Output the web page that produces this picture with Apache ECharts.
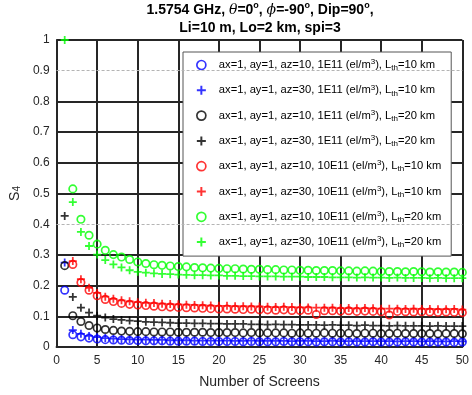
<!DOCTYPE html>
<html><head><meta charset="utf-8">
<script src="https://cdn.jsdelivr.net/npm/echarts@6/dist/echarts.min.js"></script>
<style>html,body{margin:0;padding:0;background:#fff}#c{width:472px;height:395px}</style>
</head><body><div id="c"></div>
<script>
const screens = Array.from({length: 50}, (_, i) => i + 1);
const xTicks = [0, 5, 10, 15, 20, 25, 30, 35, 40, 45, 50];
const yTicks = [0, 0.1, 0.2, 0.3, 0.4, 0.5, 0.6, 0.7, 0.8, 0.9, 1];

const blueO = [0.185,0.040,0.033,0.029,0.026,0.024,0.023,0.022,0.021,0.021, 0.020,0.020,0.020,0.019,0.019,0.019,0.019,0.018,0.018,0.018, 0.018,0.018,0.017,0.018,0.017,0.017,0.017,0.018,0.017,0.017, 0.017,0.016,0.017,0.017,0.016,0.017,0.016,0.016,0.017,0.016, 0.016,0.016,0.017,0.016,0.016,0.016,0.016,0.016,0.015,0.016];
const blueP = [0.275,0.055,0.043,0.036,0.032,0.029,0.027,0.026,0.025,0.024, 0.024,0.023,0.023,0.022,0.022,0.022,0.021,0.021,0.021,0.021, 0.021,0.020,0.020,0.021,0.020,0.020,0.020,0.020,0.019,0.020, 0.020,0.019,0.019,0.020,0.019,0.019,0.019,0.019,0.019,0.019, 0.019,0.018,0.019,0.019,0.018,0.019,0.018,0.018,0.019,0.018];
const blackO = [0.265,0.102,0.083,0.070,0.062,0.057,0.054,0.052,0.051,0.050, 0.050,0.049,0.049,0.049,0.048,0.048,0.048,0.048,0.047,0.047, 0.047,0.047,0.046,0.047,0.046,0.046,0.046,0.046,0.045,0.046, 0.045,0.045,0.046,0.045,0.045,0.045,0.044,0.045,0.045,0.044, 0.044,0.045,0.044,0.044,0.044,0.044,0.043,0.044,0.044,0.043];
const blackP = [0.427,0.163,0.128,0.112,0.102,0.096,0.091,0.088,0.086,0.084, 0.082,0.081,0.080,0.079,0.078,0.078,0.077,0.077,0.076,0.076, 0.075,0.075,0.075,0.074,0.074,0.073,0.074,0.073,0.073,0.072, 0.072,0.072,0.071,0.072,0.071,0.071,0.070,0.071,0.070,0.070, 0.069,0.070,0.069,0.069,0.069,0.068,0.069,0.068,0.068,0.068];
const redO = [null,0.269,0.210,0.185,0.167,0.155,0.148,0.142,0.139,0.137, 0.135,0.133,0.131,0.130,0.129,0.128,0.127,0.126,0.125,0.124, 0.124,0.123,0.122,0.123,0.121,0.121,0.120,0.121,0.119,0.119, 0.120,0.106,0.118,0.118,0.117,0.118,0.116,0.117,0.116,0.115, 0.104,0.116,0.115,0.114,0.115,0.114,0.113,0.114,0.113,0.112];
const redP = [null,0.280,0.221,0.193,0.176,0.164,0.157,0.152,0.149,0.146, 0.144,0.143,0.141,0.140,0.139,0.138,0.137,0.136,0.135,0.134, 0.134,0.133,0.133,0.132,0.132,0.131,0.130,0.131,0.130,0.129, 0.129,0.128,0.128,0.128,0.127,0.127,0.126,0.127,0.126,0.125, 0.125,0.125,0.124,0.125,0.124,0.124,0.123,0.123,0.124,0.122];
const greenO = [null,0.515,0.416,0.364,0.335,0.315,0.301,0.293,0.285,0.277, 0.272,0.268,0.266,0.264,0.262,0.261,0.259,0.258,0.257,0.256, 0.255,0.255,0.254,0.253,0.253,0.252,0.252,0.251,0.251,0.250, 0.250,0.249,0.249,0.249,0.248,0.248,0.247,0.248,0.247,0.246, 0.246,0.246,0.245,0.246,0.245,0.244,0.245,0.244,0.244,0.243];
const greenP = [1.0,0.472,0.375,0.329,0.301,0.283,0.269,0.259,0.250,0.245, 0.242,0.240,0.238,0.237,0.236,0.235,0.234,0.234,0.233,0.233, 0.232,0.232,0.231,0.231,0.230,0.230,0.230,0.229,0.229,0.229, 0.228,0.228,0.228,0.227,0.227,0.227,0.226,0.227,0.226,0.226, 0.225,0.226,0.225,0.225,0.225,0.224,0.225,0.224,0.224,0.224];

const seriesNames = [
  'ax=1, ay=1, az=10, 1E11 (el/m^3), L_th=10 km',
  'ax=1, ay=1, az=30, 1E11 (el/m^3), L_th=10 km',
  'ax=1, ay=1, az=10, 1E11 (el/m^3), L_th=20 km',
  'ax=1, ay=1, az=30, 1E11 (el/m^3), L_th=20 km',
  'ax=1, ay=1, az=10, 10E11 (el/m^3), L_th=10 km',
  'ax=1, ay=1, az=30, 10E11 (el/m^3), L_th=10 km',
  'ax=1, ay=1, az=10, 10E11 (el/m^3), L_th=20 km',
  'ax=1, ay=1, az=30, 10E11 (el/m^3), L_th=20 km'
];
const seriesValues = [blueO, blueP, blackO, blackP, redO, redP, greenO, greenP];
const seriesColors = ['#0000ff', '#0000ff', '#000000', '#000000', '#ff0000', '#ff0000', '#00ff00', '#00ff00'];
const seriesMarkers = ['o', '+', 'o', '+', 'o', '+', 'o', '+'];

const PLUS = 'path://M-0.22,-1H0.22V-0.22H1V0.22H0.22V1H-0.22V0.22H-1V-0.22H-0.22Z';
const FONT = 'Liberation Sans';
const GRID = '#262626';

const series = seriesNames.map((name, k) => {
  const isO = seriesMarkers[k] === 'o';
  const s = {
    name, type: 'scatter',
    data: screens.map((x, i) => [x, seriesValues[k][i]]).filter(d => d[1] !== null),
    symbol: isO ? 'circle' : PLUS,
    symbolSize: isO ? 7.4 : 8,
    itemStyle: isO
      ? {color: 'rgba(0,0,0,0)', borderColor: seriesColors[k], borderWidth: 1.7}
      : {color: seriesColors[k], borderWidth: 0},
    emphasis: {disabled: true},
    clip: false
  };
  if (k === 0) {
    s.markLine = {
      silent: true, symbol: 'none', label: {show: false},
      lineStyle: {color: '#b4b4b4', type: [3, 2], width: 1},
      data: [{yAxis: yTicks[4]}, {yAxis: yTicks[9]}]
    };
  }
  return s;
});

const splitColors = yTicks.map((v, i) => (i === 4 || i === 9) ? 'rgba(0,0,0,0)' : GRID);

const chart = echarts.init(document.getElementById('c'), null, {renderer: 'canvas'});
chart.setOption({
  animation: false,
  backgroundColor: '#fff',
  textStyle: {fontFamily: FONT},
  title: {
    text: '1.5754 GHz, {i|θ}=0{s|o}, {i|ϕ}=-90{s|o}, Dip=90{s|o},\nLi=10 m, Lo=2 km, spi=3',
    left: 260, textAlign: 'center', top: 1, padding: 0,
    textStyle: {
      fontFamily: FONT, fontSize: 14, fontWeight: 'bold', lineHeight: 18, color: '#000',
      rich: {
        i: {fontFamily: 'DejaVu Serif', fontStyle: 'italic', fontWeight: 'normal', fontSize: 14, lineHeight: 18},
        s: {fontSize: 9, lineHeight: 10, verticalAlign: 'top', fontWeight: 'bold'}
      }
    }
  },
  legend: {
    orient: 'vertical', left: 183, top: 52,
    padding: [6, 10, 7, 13], itemGap: 11.3, itemWidth: 9, itemHeight: 9,
    backgroundColor: '#fff', borderColor: '#555', borderWidth: 1,
    selectedMode: false,
    itemStyle: {borderWidth: 1.7},
    formatter: n => n.replace('^3', '{sup|3}').replace('_th', '{sub|th}'),
    textStyle: {
      fontFamily: FONT, fontSize: 11.2, lineHeight: 14, color: '#000', padding: [0, 0, 0, 8],
      rich: {
        sup: {fontSize: 8, lineHeight: 8, verticalAlign: 'top'},
        sub: {fontSize: 8, lineHeight: 8, verticalAlign: 'bottom'}
      }
    },
    data: seriesNames
  },
  grid: {left: 54, right: 7, top: 40, bottom: 48, containLabel: false},
  xAxis: {
    type: 'value', min: xTicks[0], max: xTicks[xTicks.length - 1], interval: 5,
    name: 'Number of Screens', nameLocation: 'middle', nameGap: 28,
    nameTextStyle: {fontFamily: FONT, fontSize: 14, color: GRID},
    axisLine: {show: true, onZero: false, lineStyle: {color: GRID, width: 2}},
    axisTick: {show: false},
    axisLabel: {fontFamily: FONT, fontSize: 12, color: GRID, margin: 8},
    splitLine: {show: true, lineStyle: {color: GRID, width: 2}}
  },
  yAxis: {
    type: 'value', min: yTicks[0], max: yTicks[yTicks.length - 1], interval: 0.1,
    name: '{a|S}{b|4}', nameLocation: 'middle', nameGap: 30,
    nameTextStyle: {fontFamily: FONT, fontSize: 14, color: GRID,
      rich: {a: {fontSize: 14, color: GRID}, b: {fontSize: 10, color: GRID, verticalAlign: 'bottom', lineHeight: 10}}},
    axisLine: {show: true, onZero: false, lineStyle: {color: GRID, width: 2}},
    axisTick: {show: false},
    axisLabel: {fontFamily: FONT, fontSize: 12, color: GRID, margin: 7},
    splitLine: {show: true, lineStyle: {color: splitColors, width: 2}}
  },
  series
});
</script></body></html>
